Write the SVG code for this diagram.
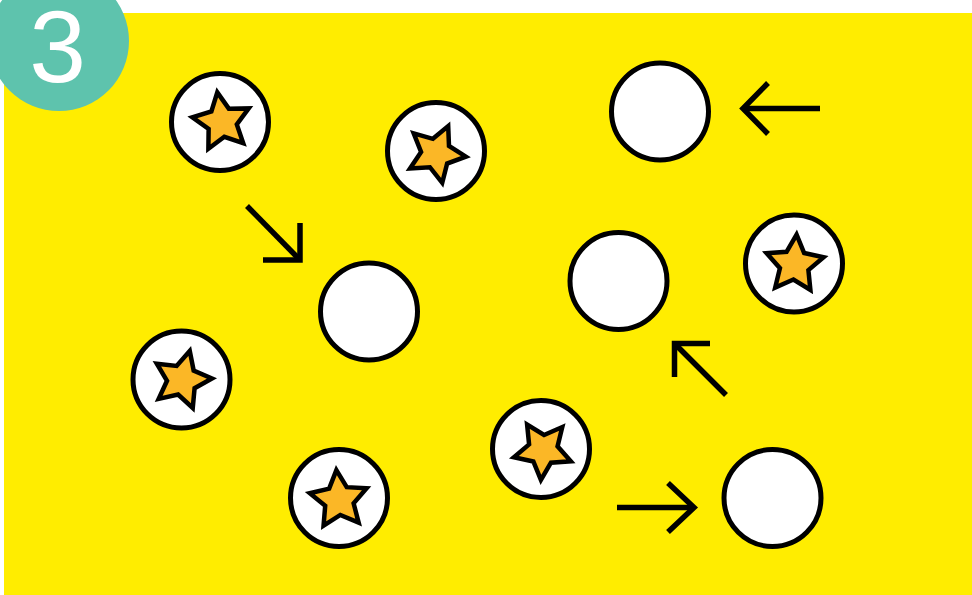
<svg xmlns="http://www.w3.org/2000/svg" width="972" height="595" viewBox="0 0 972 595">
  <style>
    .disc { fill: #ffffff; stroke: #000000; stroke-width: 5; }
    .star { fill: #fbb726; stroke: #000000; stroke-width: 4.5; stroke-linejoin: miter; }
    .arrow { fill: none; stroke: #000000; stroke-width: 5.5; stroke-linecap: butt; stroke-linejoin: miter; }
    .badge-text { fill: #ffffff; font-family: "Liberation Sans", Arial, sans-serif; font-size: 102px; text-anchor: middle; }
  </style>
  <defs>
    <path id="starShape" class="star" d="M0,-30 L8.82,-12.14 L28.53,-9.27 L14.27,4.64 L17.63,24.27 L0,15 L-17.63,24.27 L-14.27,4.64 L-28.53,-9.27 L-8.82,-12.14 Z"/>
  </defs>

  <rect x="0" y="0" width="972" height="595" fill="#ffffff"/>
  <rect id="background" x="4" y="13" width="968" height="582" fill="#ffed00"/>

  <g id="badge">
    <circle cx="59" cy="41" r="70" fill="#5ec3ad"/>
    <text class="badge-text" x="57.5" y="82">3</text>
  </g>

  <g id="star-coin-1">
    <circle class="disc" cx="220" cy="122" r="48.5"/>
    <use href="#starShape" transform="translate(222,122) rotate(-9)"/>
  </g>
  <g id="star-coin-2">
    <circle class="disc" cx="436" cy="151" r="48.5"/>
    <use href="#starShape" transform="translate(436,153.5) rotate(24)"/>
  </g>
  <g id="empty-circle-1">
    <circle class="disc" cx="660" cy="111.5" r="48.5"/>
  </g>
  <g id="star-coin-3">
    <circle class="disc" cx="794" cy="263.5" r="48.5"/>
    <use href="#starShape" transform="translate(794.5,264.5) rotate(4)"/>
  </g>
  <g id="empty-circle-2">
    <circle class="disc" cx="618.5" cy="281" r="48.5"/>
  </g>
  <g id="empty-circle-3">
    <circle class="disc" cx="369" cy="311.5" r="48.5"/>
  </g>
  <g id="star-coin-4">
    <circle class="disc" cx="181.5" cy="379.5" r="48.5"/>
    <use href="#starShape" transform="translate(182,380) rotate(15)"/>
  </g>
  <g id="star-coin-5">
    <circle class="disc" cx="541" cy="449" r="48.5"/>
    <use href="#starShape" transform="translate(543,450) rotate(40)"/>
  </g>
  <g id="star-coin-6">
    <circle class="disc" cx="339" cy="498" r="48.5"/>
    <use href="#starShape" transform="translate(339,500) rotate(-5)"/>
  </g>
  <g id="empty-circle-4">
    <circle class="disc" cx="772.5" cy="498" r="48.5"/>
  </g>

  <g id="connectors">
    <g id="arrow-down-right">
      <path class="arrow" d="M247,206 L300,260"/>
      <path class="arrow" d="M263,260 L300,260 L300,223"/>
    </g>
    <g id="arrow-left">
      <path class="arrow" d="M820,108.5 L744,108.5"/>
      <path class="arrow" d="M768,83 L743,108.5 L768,134"/>
    </g>
    <g id="arrow-up-left">
      <path class="arrow" d="M726,395 L674.5,343.5"/>
      <path class="arrow" d="M710,343.5 L674.5,343.5 L674.5,377"/>
    </g>
    <g id="arrow-right">
      <path class="arrow" d="M617,507.5 L693,507.5"/>
      <path class="arrow" d="M668,483 L694,507.5 L668,532"/>
    </g>
  </g>
</svg>
